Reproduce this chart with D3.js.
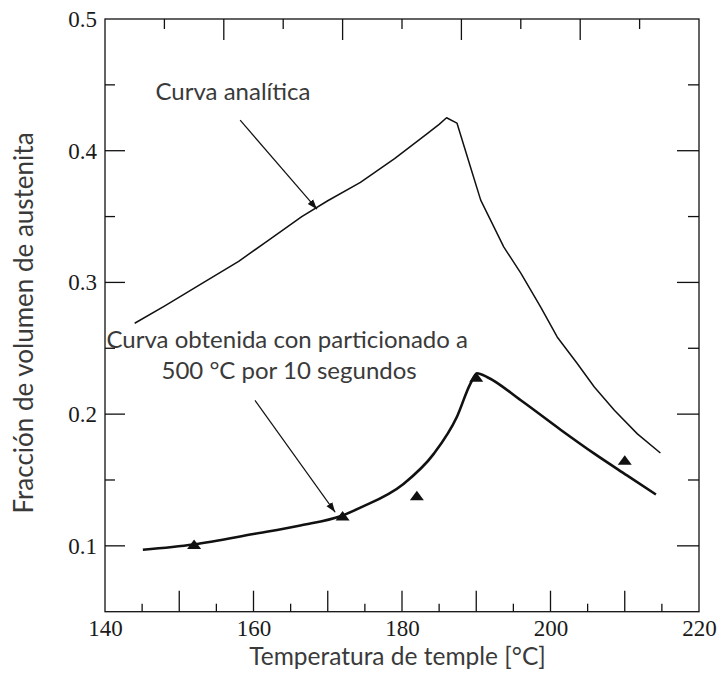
<!DOCTYPE html>
<html>
<head>
<meta charset="utf-8">
<script src="https://cdn.jsdelivr.net/npm/d3@7"></script>
<style>
  html, body { margin: 0; padding: 0; background: #fff; }
  svg { display: block; }
</style>
</head>
<body>
<svg id="chart" width="721" height="682"></svg>
<script>
// ---- data ----
const analyticT = [144, 148, 153.3, 158, 162, 166.5, 170, 174.4, 179, 183.4, 185, 186, 187.4, 189.2, 190.6, 193.7, 196, 198.7, 200.9, 203.6, 205.9, 208.6, 211.7, 214.8];
const analyticF = [0.269, 0.282, 0.300, 0.316, 0.332, 0.350, 0.362, 0.376, 0.394, 0.413, 0.420, 0.425, 0.421, 0.388, 0.3625, 0.327, 0.307, 0.281, 0.2586, 0.2384, 0.2206, 0.203, 0.185, 0.1705];

const partT = [145.1, 151.9, 160, 166.3, 171.8, 174.4, 180.2, 184.3, 187.4, 189.2, 190.1, 191.5, 196, 201.4, 205.9, 210.3, 214.2];
const partF = [0.097, 0.101, 0.109, 0.1155, 0.1226, 0.129, 0.147, 0.170, 0.198, 0.223, 0.231, 0.228, 0.2105, 0.188, 0.170, 0.1535, 0.139];

const expT = [152, 172, 182, 190, 210];
const expF = [0.101, 0.1226, 0.138, 0.228, 0.165];

const xTickLabels = [140, 160, 180, 200, 220];
const yTickLabels = [0.1, 0.2, 0.3, 0.4, 0.5];
const xTicksMajor = [150, 160, 170, 180, 190, 200, 210];
const xTicksMinor = [145, 155, 165, 175, 185, 195, 205, 215];
const topTicksMajor = [156, 172, 188, 204];
const topTicksMinor = [148, 164, 180, 196, 212];
const yTicksMajor = [0.1, 0.2, 0.3, 0.4];
const yTicksMinor = [0.15, 0.25, 0.35, 0.45];

const xDomain = [140, 220];
const yDomain = [0.05, 0.5];

const xLabel = "Temperatura de temple [°C]";
const yLabel = "Fracción de volumen de austenita";
const note1 = "Curva analítica";
const note2a = "Curva obtenida con particionado a";
const note2b = "500 °C por 10 segundos";
// annotation arrows in data coordinates: [fromT, fromF, toT, toF]
const arrow1 = [158.2, 0.4232, 168.55, 0.3556];
const arrow2 = [160.2, 0.2105, 171.0, 0.1255];

// ---- layout ----
const L = 105, T = 19, R = 699, B = 611.7;
const svg = d3.select("#chart");
const x = d3.scaleLinear().domain(xDomain).range([L, R]);
const y = d3.scaleLinear().domain(yDomain).range([B, T]);

const ink = "#111";
const textCol = "#3a3a3a";
const serif = "'Liberation Serif', 'Times New Roman', serif";
const sans = "Lato, 'Open Sans', sans-serif";

svg.append("defs").append("marker")
  .attr("id", "arr").attr("viewBox", "0 0 10 10")
  .attr("refX", 10).attr("refY", 5)
  .attr("markerWidth", 10).attr("markerHeight", 10)
  .attr("markerUnits", "userSpaceOnUse")
  .attr("orient", "auto")
  .append("path").attr("d", "M0,1.5 L10,5 L0,8.5 Z").attr("fill", ink);

// frame
svg.append("rect").attr("x", L).attr("y", T).attr("width", R - L).attr("height", B - T)
  .attr("fill", "none").attr("stroke", ink).attr("stroke-width", 1.3);

// bottom axis labels
const bottom = d3.axisBottom(x).tickValues(xTickLabels).tickSize(0).tickPadding(0);
const gB = svg.append("g").attr("transform", `translate(0,${B})`).call(bottom);
gB.select(".domain").remove();
gB.selectAll("text").style("font-family", serif).style("font-size", "23px").attr("fill", "#1a1a1a").attr("dy", "1.06em");

// inward ticks
const gTicks = svg.append("g").attr("stroke", ink).attr("stroke-width", 1.3);
gTicks.append("g").selectAll("line").data(xTicksMajor).join("line")
  .attr("x1", d => x(d)).attr("x2", d => x(d)).attr("y1", B).attr("y2", B - 21);
gTicks.append("g").selectAll("line").data(xTicksMinor).join("line")
  .attr("x1", d => x(d)).attr("x2", d => x(d)).attr("y1", B).attr("y2", B - 8);
gTicks.append("g").selectAll("line").data(topTicksMajor).join("line")
  .attr("x1", d => x(d)).attr("x2", d => x(d)).attr("y1", T).attr("y2", T + 21);
gTicks.append("g").selectAll("line").data(topTicksMinor).join("line")
  .attr("x1", d => x(d)).attr("x2", d => x(d)).attr("y1", T).attr("y2", T + 10);
gTicks.append("g").selectAll("line").data(yTicksMajor).join("line")
  .attr("x1", L).attr("x2", L + 20).attr("y1", d => y(d)).attr("y2", d => y(d));
gTicks.append("g").selectAll("line").data(yTicksMinor).join("line")
  .attr("x1", L).attr("x2", L + 10).attr("y1", d => y(d)).attr("y2", d => y(d));
gTicks.append("g").selectAll("line").data(yTicksMajor).join("line")
  .attr("x1", R).attr("x2", R - 22).attr("y1", d => y(d)).attr("y2", d => y(d));
gTicks.append("g").selectAll("line").data(yTicksMinor).join("line")
  .attr("x1", R).attr("x2", R - 11).attr("y1", d => y(d)).attr("y2", d => y(d));

// left axis labels
const left = d3.axisLeft(y).tickValues(yTickLabels).tickSize(0).tickPadding(8).tickFormat(d3.format(".1f"));
const gL = svg.append("g").attr("transform", `translate(${L},0)`).call(left);
gL.select(".domain").remove();
gL.selectAll("text").style("font-family", serif).style("font-size", "23px").attr("fill", "#1a1a1a");

// axis titles
svg.append("text").attr("x", 397.5).attr("y", 665).attr("text-anchor", "middle")
  .style("font-family", sans).style("font-size", "24.5px").attr("fill", textCol).text(xLabel);
svg.append("text").attr("transform", "translate(33,323) rotate(-90)").attr("text-anchor", "middle")
  .style("font-family", sans).style("font-size", "26px").attr("fill", textCol).text(yLabel);

// curves
svg.append("path").datum(d3.zip(analyticT, analyticF))
  .attr("d", d3.line().x(d => x(d[0])).y(d => y(d[1])))
  .attr("fill", "none").attr("stroke", ink).attr("stroke-width", 1.5)
  .attr("stroke-linejoin", "round");
svg.append("path").datum(d3.zip(partT, partF))
  .attr("d", d3.line().x(d => x(d[0])).y(d => y(d[1])).curve(d3.curveMonotoneX))
  .attr("fill", "none").attr("stroke", ink).attr("stroke-width", 2.6)
  .attr("stroke-linejoin", "round");

// markers
svg.append("g").selectAll("path").data(d3.zip(expT, expF)).join("path")
  .attr("transform", d => `translate(${x(d[0])},${y(d[1])})`)
  .attr("d", "M0,-5 L7,4.5 L-7,4.5 Z").attr("fill", ink);

// annotations
svg.append("text").attr("x", x(146.8)).attr("y", y(0.4385))
  .style("font-family", sans).style("font-size", "24px").attr("fill", textCol).text(note1);
svg.append("text").attr("x", x(140.2)).attr("y", y(0.2505))
  .style("font-family", sans).style("font-size", "24px").attr("fill", textCol).text(note2a);
svg.append("text").attr("x", x(164.8)).attr("y", y(0.2265)).attr("text-anchor", "middle")
  .style("font-family", sans).style("font-size", "24px").attr("fill", textCol).text(note2b);

[arrow1, arrow2].forEach(a => {
  svg.append("line").attr("x1", x(a[0])).attr("y1", y(a[1])).attr("x2", x(a[2])).attr("y2", y(a[3]))
    .attr("stroke", ink).attr("stroke-width", 1.2).attr("marker-end", "url(#arr)");
});
</script>
</body>
</html>
